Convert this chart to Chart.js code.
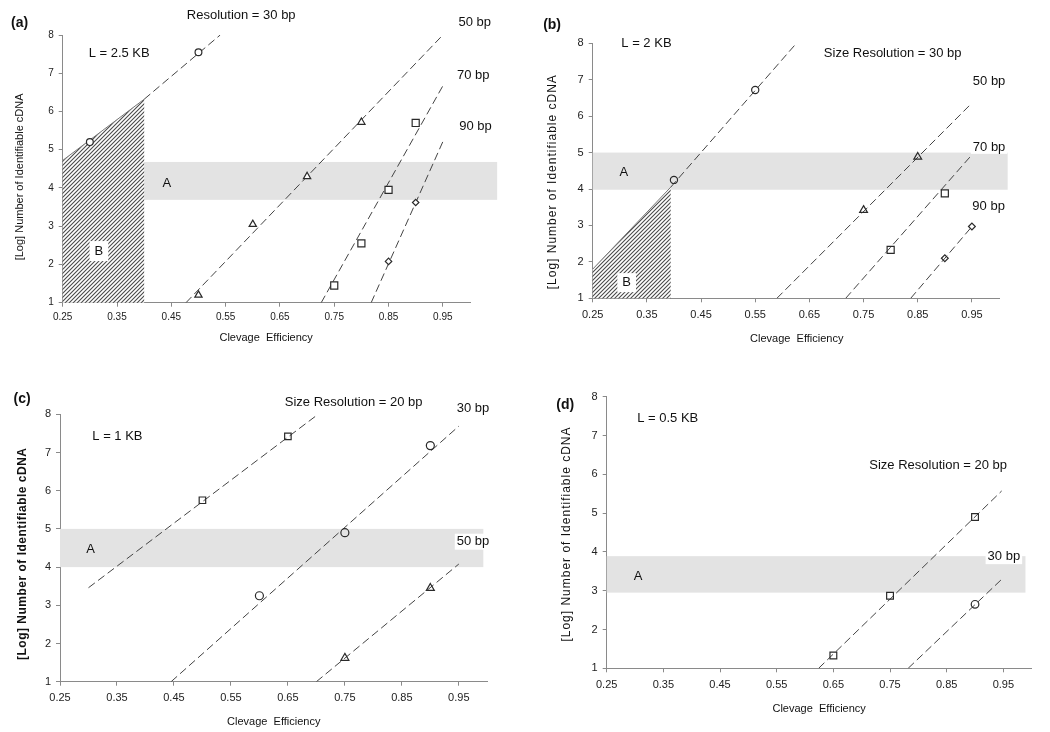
<!DOCTYPE html>
<html>
<head>
<meta charset="utf-8">
<script src="https://cdn.jsdelivr.net/npm/chart.js@4.4.1/dist/chart.umd.min.js"></script>
<style>
  html, body { margin: 0; padding: 0; background: #fff; }
  body { width: 1050px; height: 732px; position: relative; overflow: hidden; }
  canvas { position: absolute; }
</style>
</head>
<body>
<canvas id="pa" width="525" height="360" style="left:0;top:0"></canvas>
<canvas id="pb" width="525" height="360" style="left:525px;top:0"></canvas>
<canvas id="pc" width="525" height="372" style="left:0;top:360px"></canvas>
<canvas id="pd" width="525" height="372" style="left:525px;top:360px"></canvas>
<script>
// shared axes
var xTicks = [0.25, 0.35, 0.45, 0.55, 0.65, 0.75, 0.85, 0.95];
var yTicks = [1, 2, 3, 4, 5, 6, 7, 8];

// (a) L = 2.5 KB, resolution 30 bp
var aX30 = [0.30, 0.50], aY30 = [5.20, 7.55];
var aFitX30 = [0.40, 0.54], aFitY30 = [6.32, 8.00];
var aX50 = [0.50, 0.60, 0.70, 0.80], aY50 = [1.20, 3.05, 4.30, 5.72];
var aFitX50 = [0.477, 0.95], aFitY50 = [1.00, 8.00];
var aX70 = [0.75, 0.80, 0.85, 0.90], aY70 = [1.45, 2.55, 3.95, 5.70];
var aFitX70 = [0.726, 0.95], aFitY70 = [1.00, 6.67];
var aX90 = [0.85, 0.90], aY90 = [2.08, 3.62];
var aFitX90 = [0.818, 0.95], aFitY90 = [1.00, 5.21];
var aBandX = [0.40, 1.05], aBandY = [3.69, 4.68];
var aHatchX = [0.25, 0.40], aHatchTop = [4.72, 6.32];

// (b) L = 2 KB, resolution 30 bp
var bX30 = [0.40, 0.55], bY30 = [4.25, 6.72];
var bFitX30 = [0.394, 0.626], bFitY30 = [4.05, 8.00];
var bX50 = [0.75, 0.85], bY50 = [3.42, 4.88];
var bFitX50 = [0.59, 0.95], bFitY50 = [1.00, 6.36];
var bX70 = [0.80, 0.90], bY70 = [2.33, 3.88];
var bFitX70 = [0.717, 0.95], bFitY70 = [1.00, 4.94];
var bX90 = [0.90, 0.95], bY90 = [2.10, 2.97];
var bFitX90 = [0.837, 0.95], bFitY90 = [1.00, 2.97];
var bBandX = [0.25, 1.016], bBandY = [3.98, 5.00];
var bHatchX = [0.25, 0.394], bHatchTop = [1.80, 4.05];

// (c) L = 1 KB, resolution 20 bp
var cX20 = [0.50, 0.65], cY20 = [5.75, 7.42];
var cFitX20 = [0.30, 0.703], cFitY20 = [3.46, 8.00];
var cX30 = [0.60, 0.75, 0.90], cY30 = [3.25, 4.90, 7.18];
var cFitX30 = [0.445, 0.95], cFitY30 = [1.00, 7.69];
var cX50 = [0.75, 0.90], cY50 = [1.62, 3.45];
var cFitX50 = [0.70, 0.95], cFitY50 = [1.00, 4.08];
var cBandX = [0.25, 0.993], cBandY = [4.00, 5.00];

// (d) L = 0.5 KB, resolution 20 bp
var dX20 = [0.65, 0.75, 0.90], dY20 = [1.33, 2.87, 4.90];
var dFitX20 = [0.624, 0.947], dFitY20 = [1.00, 5.57];
var dX30 = [0.90], dY30 = [2.65];
var dFitX30 = [0.782, 0.946], dFitY30 = [1.00, 3.28];
var dBandX = [0.25, 0.989], dBandY = [2.95, 3.89];

var SANS = "'Liberation Sans', Arial, sans-serif";

function pts(xs, ys) {
    return xs.map(function(x, i) { return {x: x, y: ys[i]}; });
}

function markers(xs, ys, style, r, fill) {
    return {
        data: pts(xs, ys), showLine: false, pointStyle: style, pointRadius: r,
        pointBorderColor: '#2a2a2a', pointBorderWidth: 1.2,
        pointBackgroundColor: fill || 'rgba(0,0,0,0)'
    };
}

function fit(xs, ys) {
    return {
        data: pts(xs, ys), showLine: true, pointRadius: 0,
        borderColor: '#444', borderWidth: 1, borderDash: [8, 4]
    };
}

function hatchPattern(ctx) {
    var c = document.createElement('canvas');
    c.width = c.height = 4;
    var g = c.getContext('2d');
    g.fillStyle = '#fff';
    g.fillRect(0, 0, 4, 4);
    g.strokeStyle = '#4a4a4a';
    g.lineWidth = 1.1;
    g.beginPath();
    g.moveTo(-1, 5); g.lineTo(5, -1);
    g.moveTo(-1, 1); g.lineTo(1, -1);
    g.moveTo(3, 5); g.lineTo(5, 3);
    g.stroke();
    return ctx.createPattern(c, 'repeat');
}

var areaPlugin = {
    id: 'areas',
    beforeDatasetsDraw: function(chart) {
        var o = chart.options.plugins.areas, ctx = chart.ctx;
        var x = chart.scales.x, y = chart.scales.y;
        ctx.save();
        if (o.bandX) {
            var x0 = x.getPixelForValue(o.bandX[0]), x1 = x.getPixelForValue(o.bandX[1]);
            var y0 = y.getPixelForValue(o.bandY[1]), y1 = y.getPixelForValue(o.bandY[0]);
            ctx.fillStyle = '#e3e3e3';
            ctx.fillRect(x0, y0, x1 - x0, y1 - y0);
        }
        if (o.hatchX) {
            var hx0 = x.getPixelForValue(o.hatchX[0]), hx1 = x.getPixelForValue(o.hatchX[1]);
            var base = y.getPixelForValue(1);
            var t0 = y.getPixelForValue(o.hatchTop[0]), t1 = y.getPixelForValue(o.hatchTop[1]);
            ctx.beginPath();
            ctx.moveTo(hx0, base); ctx.lineTo(hx0, t0); ctx.lineTo(hx1, t1); ctx.lineTo(hx1, base);
            ctx.closePath();
            ctx.fillStyle = hatchPattern(ctx);
            ctx.fill();
            ctx.beginPath();
            ctx.moveTo(hx0, t0); ctx.lineTo(hx1, t1);
            ctx.strokeStyle = '#777';
            ctx.lineWidth = 1;
            ctx.stroke();
        }
        ctx.restore();
    },
    afterDatasetsDraw: function(chart) {
        var notes = chart.options.plugins.areas.notes || [], ctx = chart.ctx;
        var x = chart.scales.x, y = chart.scales.y;
        notes.forEach(function(n) {
            ctx.save();
            ctx.font = n.font;
            ctx.letterSpacing = n.spacing || '0px';
            ctx.textAlign = 'center';
            ctx.textBaseline = 'middle';
            ctx.translate(x.getPixelForValue(n.x), y.getPixelForValue(n.y));
            if (n.rotate) ctx.rotate(-Math.PI / 2);
            if (n.box) {
                var w = ctx.measureText(n.text).width + n.box[0] * 2, h = n.box[1] * 2;
                ctx.fillStyle = '#fff';
                ctx.fillRect(-w / 2, -h / 2, w, h);
            }
            ctx.fillStyle = '#111';
            ctx.fillText(n.text, 0, 0);
            ctx.restore();
        });
    }
};

function renderPanel(id, p) {
    var tickFont = {family: SANS, size: p.tickSize};
    new Chart(document.getElementById(id), {
        type: 'scatter',
        data: {datasets: p.datasets},
        options: {
            responsive: false,
            animation: false,
            events: [],
            layout: {padding: {left: 0, top: p.top, right: p.right, bottom: p.bottom}},
            plugins: {
                legend: {display: false},
                tooltip: {enabled: false},
                areas: p.areas
            },
            scales: {
                x: {
                    type: 'linear', min: 0.25, max: 1.0,
                    afterBuildTicks: function(s) { s.ticks = xTicks.map(function(v) { return {value: v}; }); },
                    afterFit: function(s) { s.height = 30; },
                    ticks: {
                        color: '#222', font: tickFont, padding: p.tickSize > 10 ? 6 : 5, maxRotation: 0,
                        callback: function(v) { return v.toFixed(2); }
                    },
                    grid: {drawOnChartArea: false, drawTicks: true, tickLength: 4, color: '#8a8a8a'},
                    border: {color: '#8a8a8a', width: 1}
                },
                y: {
                    type: 'linear', min: 1, max: 8,
                    afterBuildTicks: function(s) { s.ticks = yTicks.map(function(v) { return {value: v}; }); },
                    afterFit: function(s) { s.width = p.yWidth; },
                    ticks: {
                        color: '#222', font: tickFont, padding: 5,
                        callback: function(v) { return String(v); }
                    },
                    grid: {drawOnChartArea: false, drawTicks: true, tickLength: 4, color: '#8a8a8a'},
                    border: {color: '#8a8a8a', width: 1}
                }
            }
        },
        plugins: [areaPlugin]
    });
}

var YT = '[Log] Number of Identifiable cDNA';
var XT = 'Clevage  Efficiency';
var LBL = '13px ' + SANS;
var XTF = '11px ' + SANS;

renderPanel('pa', {
    yWidth: 62.7, top: 35, right: 55, bottom: 27.3, tickSize: 10,
    datasets: [
        markers(aX30, aY30, 'circle', 3.4, '#fff'),
        markers(aX50, aY50, 'triangle', 4.2, '#fff'),
        markers(aX70, aY70, 'rect', 5, '#fff'),
        markers(aX90, aY90, 'rectRot', 3.2, '#fff'),
        fit(aFitX30, aFitY30), fit(aFitX50, aFitY50), fit(aFitX70, aFitY70), fit(aFitX90, aFitY90)
    ],
    areas: {
        bandX: aBandX, bandY: aBandY, hatchX: aHatchX, hatchTop: aHatchTop,
        notes: [
            {text: '(a)', x: 0.1706, y: 8.31, font: 'bold 14px ' + SANS},
            {text: 'Resolution = 30 bp', x: 0.5787, y: 8.52, font: LBL},
            {text: '50 bp', x: 1.0088, y: 8.34, font: LBL},
            {text: '70 bp', x: 1.006, y: 6.93, font: LBL},
            {text: '90 bp', x: 1.01, y: 5.62, font: LBL},
            {text: 'L = 2.5 KB', x: 0.354, y: 7.53, font: LBL},
            {text: 'A', x: 0.4417, y: 4.13, font: LBL},
            {text: 'B', x: 0.3167, y: 2.35, font: LBL, box: [5, 10]},
            {text: XT, x: 0.6246, y: 0.077, font: XTF},
            {text: YT, x: 0.1715, y: 4.29, font: '11px ' + SANS, rotate: true}
        ]
    }
});

renderPanel('pb', {
    yWidth: 67.7, top: 43.3, right: 51, bottom: 31.7, tickSize: 11,
    datasets: [
        markers(bX30, bY30, 'circle', 3.6),
        markers(bX50, bY50, 'triangle', 4.5),
        markers(bX70, bY70, 'rect', 5),
        markers(bX90, bY90, 'rectRot', 3.4),
        fit(bFitX30, bFitY30), fit(bFitX50, bFitY50), fit(bFitX70, bFitY70), fit(bFitX90, bFitY90)
    ],
    areas: {
        bandX: bBandX, bandY: bBandY, hatchX: bHatchX, hatchTop: bHatchTop,
        notes: [
            {text: '(b)', x: 0.175, y: 8.50, font: 'bold 14px ' + SANS},
            {text: 'Size Resolution = 30 bp', x: 0.8038, y: 7.71, font: LBL},
            {text: '50 bp', x: 0.9817, y: 6.96, font: LBL},
            {text: '70 bp', x: 0.9817, y: 5.13, font: LBL, box: [2, 6]},
            {text: '90 bp', x: 0.9808, y: 3.51, font: LBL},
            {text: 'L = 2 KB', x: 0.3492, y: 7.99, font: LBL},
            {text: 'A', x: 0.3077, y: 4.45, font: LBL},
            {text: 'B', x: 0.3127, y: 1.43, font: LBL, box: [5, 9.5]},
            {text: XT, x: 0.6267, y: -0.117, font: XTF},
            {text: YT, x: 0.1768, y: 4.2, font: '12px ' + SANS, spacing: '1px', rotate: true}
        ]
    }
});

renderPanel('pc', {
    yWidth: 60, top: 54.3, right: 37.7, bottom: 20.3, tickSize: 11,
    datasets: [
        markers(cX20, cY20, 'rect', 4.6),
        markers(cX30, cY30, 'circle', 4),
        markers(cX50, cY50, 'triangle', 4.6),
        fit(cFitX20, cFitY20), fit(cFitX30, cFitY30), fit(cFitX50, cFitY50)
    ],
    areas: {
        bandX: cBandX, bandY: cBandY,
        notes: [
            {text: '(c)', x: 0.1834, y: 8.40, font: 'bold 14px ' + SANS},
            {text: 'Size Resolution = 20 bp', x: 0.7654, y: 8.32, font: LBL},
            {text: '30 bp', x: 0.975, y: 8.165, font: LBL},
            {text: '50 bp', x: 0.975, y: 4.665, font: LBL, box: [2, 8]},
            {text: 'L = 1 KB', x: 0.3508, y: 7.41, font: LBL},
            {text: 'A', x: 0.3038, y: 4.45, font: LBL},
            {text: XT, x: 0.6252, y: -0.047, font: XTF},
            {text: YT, x: 0.1846, y: 4.35, font: 'bold 12px ' + SANS, spacing: '0.5px', rotate: true}
        ]
    }
});

renderPanel('pd', {
    yWidth: 81.7, top: 36.7, right: 18.3, bottom: 33.7, tickSize: 11,
    datasets: [
        markers(dX20, dY20, 'rect', 4.8),
        markers(dX30, dY30, 'circle', 3.8),
        fit(dFitX20, dFitY20), fit(dFitX30, dFitY30)
    ],
    areas: {
        bandX: dBandX, bandY: dBandY,
        notes: [
            {text: '(d)', x: 0.1767, y: 7.79, font: 'bold 14px ' + SANS},
            {text: 'Size Resolution = 20 bp', x: 0.8349, y: 6.24, font: LBL},
            {text: '30 bp', x: 0.9509, y: 3.89, font: LBL, box: [2, 8]},
            {text: 'L = 0.5 KB', x: 0.3577, y: 7.45, font: LBL},
            {text: 'A', x: 0.3055, y: 3.38, font: LBL},
            {text: XT, x: 0.6249, y: -0.04, font: XTF},
            {text: YT, x: 0.1797, y: 4.46, font: '12px ' + SANS, spacing: '1px', rotate: true}
        ]
    }
});
</script>
</body>
</html>
